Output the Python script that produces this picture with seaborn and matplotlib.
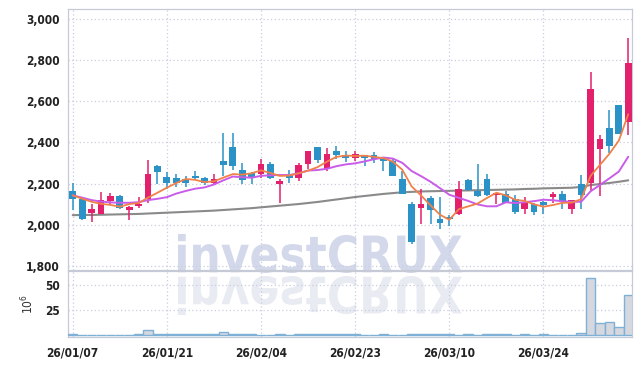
# Candlestick chart with 5/10/60 day moving averages and volume panel
import matplotlib
matplotlib.use("Agg")
import matplotlib.pyplot as plt
from matplotlib.textpath import TextPath
from matplotlib.font_manager import FontProperties
from matplotlib.patches import PathPatch
from matplotlib.transforms import Affine2D, IdentityTransform
from matplotlib.ticker import FixedLocator, FixedFormatter
import numpy as np
import pandas as pd
import seaborn as sns

# trading days shown on the chart
dates = ["26/01/07", "26/01/08", "26/01/09", "26/01/12", "26/01/13", "26/01/14", "26/01/15",
         "26/01/16", "26/01/19", "26/01/20", "26/01/21", "26/01/22", "26/01/23", "26/01/26",
         "26/01/27", "26/01/28", "26/01/29", "26/01/30", "26/02/02", "26/02/03", "26/02/04",
         "26/02/05", "26/02/06", "26/02/09", "26/02/10", "26/02/11", "26/02/12", "26/02/13",
         "26/02/19", "26/02/20", "26/02/23", "26/02/24", "26/02/25", "26/02/26", "26/02/27",
         "26/03/03", "26/03/04", "26/03/05", "26/03/06", "26/03/09", "26/03/10", "26/03/11",
         "26/03/12", "26/03/13", "26/03/16", "26/03/17", "26/03/18", "26/03/19", "26/03/20",
         "26/03/23", "26/03/24", "26/03/25", "26/03/26", "26/03/27", "26/03/30", "26/03/31",
         "26/04/01", "26/04/02", "26/04/03", "26/04/06"]

opens = [2166, 2127, 2059, 2054, 2117, 2138, 2072, 2091, 2124, 2286,
         2234, 2226, 2224, 2237, 2229, 2201, 2310, 2380, 2265, 2250,
         2249, 2294, 2197, 2242, 2229, 2295, 2377, 2271, 2360, 2341,
         2326, 2341, 2338, 2318, 2310, 2221, 2099, 2083, 2128, 2030,
         2037, 2054, 2216, 2163, 2221, 2143, 2148, 2124, 2078, 2099,
         2113, 2133, 2148, 2078, 2197, 2205, 2370, 2472, 2581, 2500]
highs = [2203, 2130, 2099, 2159, 2156, 2143, 2090, 2135, 2315, 2290,
         2254, 2245, 2237, 2260, 2234, 2249, 2445, 2445, 2299, 2254,
         2321, 2304, 2221, 2266, 2300, 2360, 2380, 2374, 2383, 2360,
         2360, 2341, 2354, 2318, 2321, 2261, 2110, 2172, 2140, 2137,
         2047, 2213, 2224, 2294, 2245, 2153, 2164, 2143, 2135, 2107,
         2116, 2161, 2164, 2122, 2240, 2742, 2438, 2556, 2581, 2904]
lows = [2073, 2022, 2013, 2054, 2099, 2078, 2023, 2083, 2108, 2200,
        2176, 2185, 2185, 2216, 2192, 2192, 2237, 2265, 2197, 2197,
        2229, 2221, 2107, 2205, 2213, 2270, 2299, 2261, 2320, 2305,
        2310, 2286, 2302, 2261, 2237, 2148, 1909, 2005, 2005, 1981,
        1996, 2046, 2164, 2137, 2140, 2099, 2104, 2054, 2051, 2046,
        2051, 2107, 2078, 2051, 2075, 2164, 2140, 2347, 2440, 2435]
closes = [2126, 2026, 2075, 2119, 2138, 2083, 2088, 2103, 2249, 2256,
          2205, 2201, 2201, 2229, 2201, 2224, 2291, 2286, 2216, 2234,
          2294, 2229, 2213, 2226, 2289, 2357, 2315, 2346, 2341, 2322,
          2346, 2322, 2318, 2310, 2237, 2151, 1916, 2099, 2071, 2010,
          2026, 2172, 2169, 2140, 2145, 2153, 2108, 2062, 2113, 2062,
          2095, 2148, 2115, 2119, 2146, 2659, 2416, 2383, 2440, 2785]

# volume in millions of shares
volume = [0.5, 0.2, 0.2, 0.2, 0.2, 0.2, 0.2, 0.5, 4.5, 1.0,
          0.4, 0.4, 0.4, 0.4, 0.4, 0.4, 3.0, 1.2, 0.4, 0.4,
          0.2, 0.2, 0.4, 0.2, 0.4, 0.6, 1.0, 0.6, 0.5, 0.5,
          0.4, 0.2, 0.2, 0.4, 0.2, 0.2, 0.8, 0.9, 0.5, 0.5,
          0.4, 0.2, 0.4, 0.2, 0.6, 1.0, 0.5, 0.2, 0.4, 0.2,
          0.4, 0.2, 0.2, 0.2, 1.5, 56.5, 11.5, 12.5, 7.5, 40.0]

# moving average values at the left edge (history before the window)
ma5_start = [2143, 2127, 2112, 2102]
ma10_start = [2143, 2132, 2120, 2113, 2109, 2107, 2107, 2110, 2120]

# 60 day average (grey line)
ma60 = [2047, 2048, 2048, 2049, 2050, 2051, 2052, 2053, 2055, 2057,
        2059, 2061, 2063, 2065, 2067, 2069, 2072, 2075, 2078, 2081,
        2085, 2089, 2093, 2097, 2101, 2106, 2111, 2117, 2123, 2129,
        2135, 2140, 2145, 2150, 2154, 2158, 2160, 2162, 2163, 2164,
        2165, 2166, 2167, 2168, 2169, 2170, 2171, 2172, 2174, 2175,
        2177, 2178, 2179, 2180, 2184, 2193, 2198, 2203, 2209, 2216]

price_ticks = [1800, 2000, 2200, 2400, 2600, 2800, 3000]
price_labels = ["1,800", "2,000", "2,200", "2,400", "2,600", "2,800", "3,000"]
vol_ticks = [25, 50]
vol_labels = ["25", "50"]
date_ticks = [0, 10, 20, 30, 40, 50]

df = pd.DataFrame({"date": dates, "open": opens, "high": highs, "low": lows,
                   "close": closes, "volume": volume, "ma60": ma60})
df["x"] = np.arange(len(df))
df["ma5"] = df["close"].rolling(5).mean()
df.loc[:len(ma5_start) - 1, "ma5"] = ma5_start
df["ma10"] = df["close"].rolling(10).mean()
df.loc[:len(ma10_start) - 1, "ma10"] = ma10_start

sns.set_theme(style="white")
plt.rcParams["font.family"] = ["DejaVu Sans"]
plt.rcParams["font.stretch"] = "condensed"

RED = "#e3206c"
BLUE = "#2b92c8"
GRID = "#c9cde0"
EDGE = "#c6c9d6"
TXT = "#222222"
FS = 8.6

fig = plt.figure(figsize=(6.42, 3.66), dpi=100, facecolor="white")
ax = fig.add_axes([68 / 642, 96 / 366, 564 / 642, 261 / 366])
axv = fig.add_axes([68 / 642, 29.5 / 366, 564 / 642, 65.5 / 366])
for a in (ax, axv):
    a.set_facecolor("none")
    for s in a.spines.values():
        s.set_color(EDGE)
        s.set_linewidth(0.9)

# watermark text and its mirror image, drawn behind the plots
tp = TextPath((0, 0), "investCRUX", size=50, prop=FontProperties(family="DejaVu Sans", weight="bold"))
bb = tp.get_extents()
sx = 284 / bb.width
sy = 39 / bb.height
t_main = Affine2D().translate(-bb.x0, -bb.y0).scale(sx, sy).translate(178, 366 - 273)
t_flip = Affine2D().translate(-bb.x0, -bb.y0).scale(sx, -sy).translate(178, 366 - 276)
fig.patches.append(PathPatch(t_main.transform_path(tp), facecolor="#d3d8ea", edgecolor="none",
                             transform=IdentityTransform(), zorder=-1, figure=fig))
fig.patches.append(PathPatch(t_flip.transform_path(tp), facecolor="#e9ebf2", edgecolor="none",
                             transform=IdentityTransform(), zorder=-1, figure=fig))

# candles: red when close >= open, blue otherwise
up = df["close"] >= df["open"]
colors = np.where(up, RED, BLUE)
ax.vlines(df["x"], df["low"], df["high"], colors=colors, linewidth=1.1, zorder=3)
body_lo = np.minimum(df["open"], df["close"])
body_h = np.maximum(np.abs(df["close"] - df["open"]), 4)
ax.bar(df["x"], body_h, bottom=body_lo, width=0.72, color=colors, linewidth=0, zorder=4)

# moving averages
sns.lineplot(data=df, x="x", y="ma60", ax=ax, color="#8a8a8a", linewidth=1.5, zorder=2)
sns.lineplot(data=df, x="x", y="ma10", ax=ax, color="#c95ce8", linewidth=1.4, zorder=5)
sns.lineplot(data=df, x="x", y="ma5", ax=ax, color="#f0814a", linewidth=1.3, zorder=6)

ax.set_ylim(1781, 3047)
ax.yaxis.set_major_locator(FixedLocator(price_ticks))
ax.yaxis.set_major_formatter(FixedFormatter(price_labels))
ax.set_xlim(-0.5, 59.4)
ax.xaxis.set_major_locator(FixedLocator(date_ticks))
ax.set_xlabel("")
ax.set_ylabel("")
ax.grid(True, color=GRID, linestyle=(0, (1, 2)), linewidth=0.9)
ax.tick_params(axis="y", length=3, color=EDGE, labelsize=FS, labelcolor=TXT, pad=3)
ax.tick_params(axis="x", length=0, labelbottom=False)

# volume panel
sns.barplot(data=df, x="x", y="volume", ax=axv, native_scale=True, width=1.0,
            color="#d6d8e0", edgecolor="#7fb0d6", linewidth=1.0, saturation=1, zorder=3)
axv.set_xlim(-0.5, 59.4)
axv.set_ylim(-1.7, 64)
axv.yaxis.set_major_locator(FixedLocator(vol_ticks))
axv.yaxis.set_major_formatter(FixedFormatter(vol_labels))
axv.xaxis.set_major_locator(FixedLocator(date_ticks))
axv.xaxis.set_major_formatter(FixedFormatter([dates[i] for i in date_ticks]))
axv.grid(True, color=GRID, linestyle=(0, (1, 2)), linewidth=0.9)
axv.tick_params(axis="y", length=3, color=EDGE, labelsize=FS, labelcolor=TXT, pad=3)
axv.tick_params(axis="x", length=3, color=EDGE, labelsize=FS, labelcolor=TXT, pad=4)
axv.set_xlabel("")
axv.set_ylabel("$10^6$", fontsize=FS, color="#333333", labelpad=6)

for lab in ax.get_yticklabels() + axv.get_yticklabels() + axv.get_xticklabels():
    lab.set_fontweight("bold")

fig.savefig("out.png", dpi=100, facecolor="white")
